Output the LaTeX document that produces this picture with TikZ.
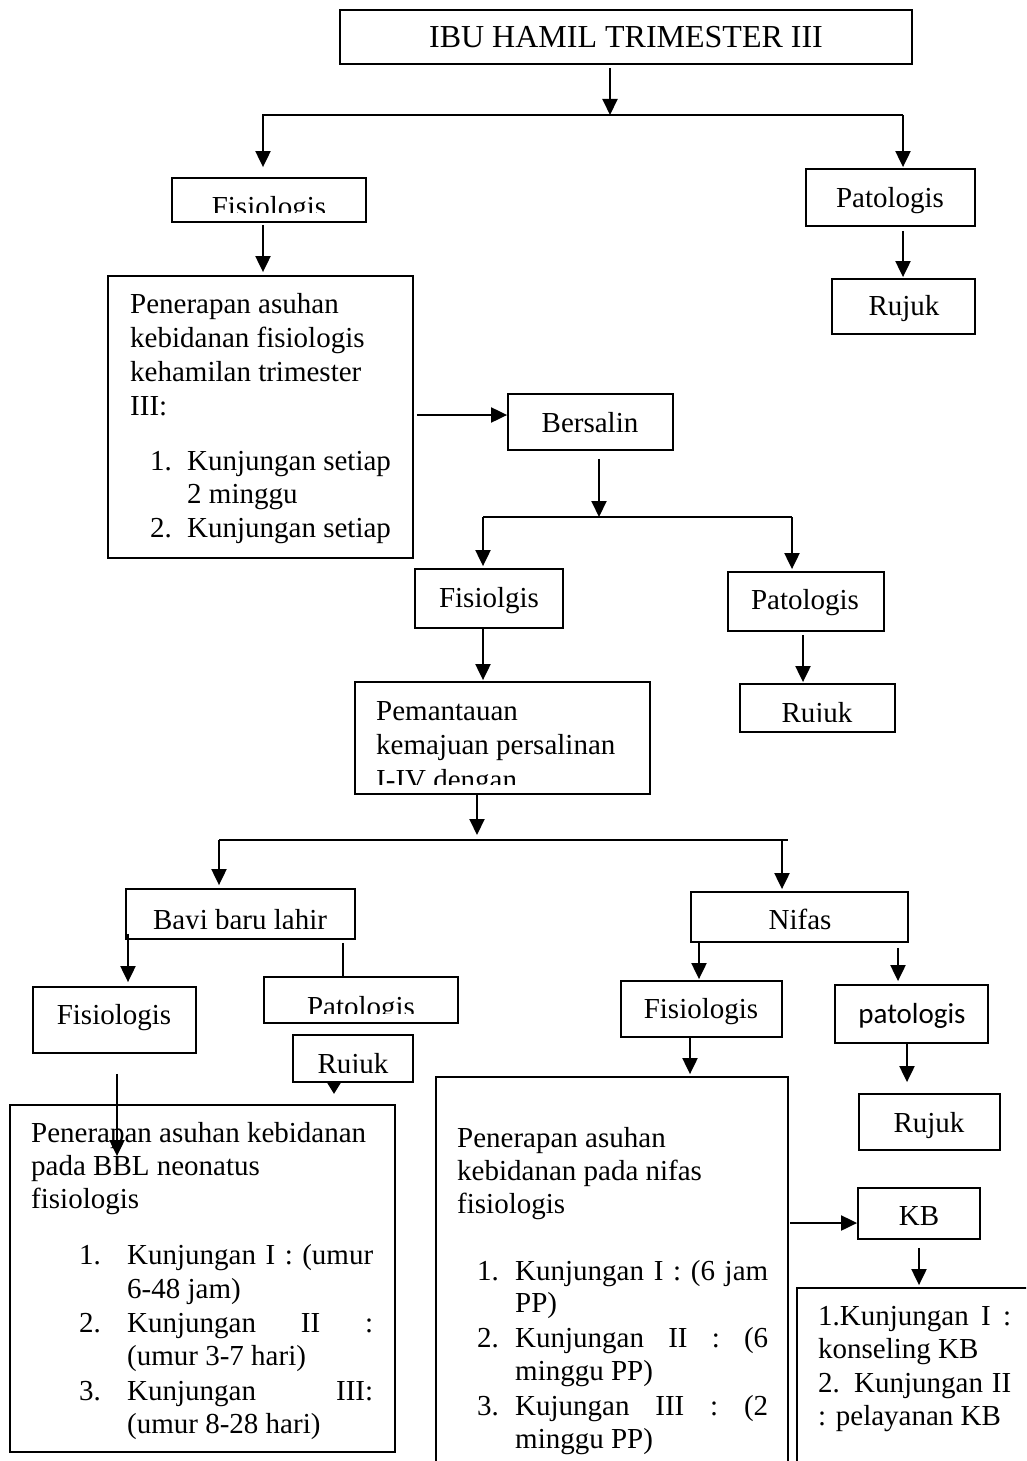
\documentclass[tikz,border=0pt]{standalone}
\usepackage{fontspec}
\setmainfont{Liberation Serif}
\newfontfamily\carlitof{Carlito}
\usetikzlibrary{arrows.meta}
\newcommand\FBox[5]{\node[box, minimum width={#4pt-#2pt}, minimum height={#5pt-#3pt}] (#1) at ({(#2+#4)/2},{(#3+#5)/2}) {};}
\begin{document}
\begin{tikzpicture}[x=1pt,y=-1pt,
  box/.style={draw, line width=1.8pt, rectangle, inner sep=0pt},
  ln/.style={line width=2pt},
  arr/.style={line width=2pt, -{Triangle[length=16pt,width=15pt]}},
  arrs/.style={line width=2pt, -{Triangle[length=11pt,width=13pt]}},
  tl/.style={inner sep=0pt, anchor=base west, font=\fontsize{29}{34}\selectfont},
  tc/.style={inner sep=0pt, anchor=base, font=\fontsize{29}{34}\selectfont}]
\useasboundingbox (0,0) rectangle (1026,1461);
\clip (0,0) rectangle (1026,1461);
% boxes
\FBox{b0}{340}{10}{912}{64}
\FBox{b1}{172}{178}{366}{222}
\FBox{b2}{806}{169}{975}{226}
\FBox{b3}{832}{279}{975}{334}
\FBox{b4}{108}{276}{413}{558}
\FBox{b5}{508}{394}{673}{450}
\FBox{b6}{415}{569}{563}{628}
\FBox{b7}{728}{572}{884}{631}
\FBox{b8}{740}{684}{895}{732}
\FBox{b9}{355}{682}{650}{794}
\FBox{b10}{126}{889}{355}{939}
\FBox{b11}{691}{892}{908}{942}
\FBox{b12}{33}{987}{196}{1053}
\FBox{b13}{264}{977}{458}{1023}
\FBox{b14}{293}{1035}{413}{1082}
\FBox{b15}{10}{1105}{395}{1452}
\FBox{b16}{621}{981}{782}{1037}
\FBox{b17}{835}{985}{988}{1043}
\FBox{b18}{859}{1094}{1000}{1150}
\FBox{b19}{436}{1077}{788}{1490}
\FBox{b20}{858}{1188}{980}{1239}
\FBox{b21}{797}{1288}{1060}{1490}
% single-line texts
\node[tc, font=\fontsize{32}{36}\selectfont] (t0) at (626,48) {IBU HAMIL TRIMESTER III};
\begin{scope}
\clip (172,178) rectangle (366,212);
\node[tc] (t1) at (269,216) {Fisiologis};
\end{scope}
\node[tc] (t2) at (890,207) {Patologis};
\node[tc] (t3) at (904,315) {Rujuk};
\node[tc] (t5) at (590,432) {Bersalin};
\node[tc] (t6) at (489,607) {Fisiolgis};
\node[tc] (t7) at (805,609) {Patologis};
\begin{scope}
\clip (740,684) rectangle (895,721);
\node[tc] (t8) at (817,722) {Rujuk};
\end{scope}
\begin{scope}
\clip (126,889) rectangle (355,928);
\node[tc] (t10) at (240,929) {Bayi baru lahir};
\end{scope}
\node[tc] (t11) at (800,929) {Nifas};
\node[tc] (t12) at (114,1024) {Fisiologis};
\begin{scope}
\clip (264,977) rectangle (458,1013);
\node[tc] (t13) at (361,1016) {Patologis};
\end{scope}
\begin{scope}
\clip (293,1035) rectangle (413,1072);
\node[tc] (t14) at (353,1073) {Rujuk};
\end{scope}
\node[tc] (t16) at (701,1018) {Fisiologis};
\node[tc, font=\fontsize{29}{34}\carlitof] (t17) at (912,1023) {patologis};
\node[tc] (t18) at (929,1132) {Rujuk};
\node[tc] (t20) at (919,1225) {KB};
% box b4 text
\node[tl] (t4a) at (130,313) {Penerapan asuhan};
\node[tl] (t4b) at (130,347) {kebidanan fisiologis};
\node[tl] (t4c) at (130,381) {kehamilan trimester};
\node[tl] (t4d) at (130,415) {III:};
\node[tl] (t4e) at (150,470) {1.};
\node[tl] (t4f) at (187,470) {Kunjungan setiap};
\node[tl] (t4g) at (187,503) {2 minggu};
\node[tl] (t4h) at (150,537) {2.};
\node[tl] (t4i) at (187,537) {Kunjungan setiap};
% box b9 text
\begin{scope}
\clip (355,682) rectangle (650,784);
\node[tl] (t9a) at (376,720) {Pemantauan};
\node[tl] (t9b) at (376,754) {kemajuan persalinan};
\node[tl] (t9c) at (376,789) {I-IV dengan};
\end{scope}
% box b15 text
\node[tl] (t15a) at (31,1142) {Penerapan asuhan kebidanan};
\node[tl] (t15b) at (31,1175) {pada BBL neonatus};
\node[tl] (t15c) at (31,1208) {fisiologis};
\node[tl] (t15d) at (79,1264) {1.};
\node[tl] (t15e) at (127,1264) {\makebox[246pt][s]{Kunjungan I : (umur}};
\node[tl] (t15f) at (127,1298) {6-48 jam)};
\node[tl] (t15g) at (79,1332) {2.};
\node[tl] (t15h) at (127,1332) {\makebox[246pt][s]{Kunjungan II :}};
\node[tl] (t15i) at (127,1365) {(umur 3-7 hari)};
\node[tl] (t15j) at (79,1400) {3.};
\node[tl] (t15k) at (127,1400) {\makebox[246pt][s]{Kunjungan III:}};
\node[tl] (t15l) at (127,1433) {(umur 8-28 hari)};
% box b19 text
\node[tl] (t19a) at (457,1147) {Penerapan asuhan};
\node[tl] (t19b) at (457,1180) {kebidanan pada nifas};
\node[tl] (t19c) at (457,1213) {fisiologis};
\node[tl] (t19d) at (477,1280) {1.};
\node[tl] (t19e) at (515,1280) {\makebox[253pt][s]{Kunjungan I : (6 jam}};
\node[tl] (t19f) at (515,1312) {PP)};
\node[tl] (t19g) at (477,1347) {2.};
\node[tl] (t19h) at (515,1347) {\makebox[253pt][s]{Kunjungan II : (6}};
\node[tl] (t19i) at (515,1380) {minggu PP)};
\node[tl] (t19j) at (477,1415) {3.};
\node[tl] (t19k) at (515,1415) {\makebox[253pt][s]{Kujungan III : (2}};
\node[tl] (t19l) at (515,1448) {minggu PP)};
% box b21 text
\node[tl] (t21a) at (818,1325) {\makebox[193pt][s]{1.Kunjungan I :}};
\node[tl] (t21b) at (818,1358) {konseling KB};
\node[tl] (t21c) at (818,1392) {\makebox[193pt][s]{2. Kunjungan II}};
\node[tl] (t21d) at (818,1425) {: pelayanan KB};
% junction coordinates
\coordinate (j1) at (610,115);
\coordinate (jL1) at (263,115);
\coordinate (jR1) at (903,115);
\coordinate (j6) at (0,415);
\coordinate (j2) at (599,517);
\coordinate (jL2) at (483,517);
\coordinate (jR2) at (792,517);
\coordinate (x11) at (803,0);
\coordinate (j3) at (477,840);
\coordinate (jL3) at (219,840);
\coordinate (jR3) at (782,840);
\coordinate (jE3) at (788,840);
\coordinate (x15) at (128,0);
\coordinate (x16) at (343,0);
\coordinate (x17) at (334,0);
\coordinate (x18) at (117,0);
\coordinate (x19) at (699,0);
\coordinate (x20) at (898,0);
\coordinate (x21) at (690,0);
\coordinate (x22) at (907,0);
\coordinate (j23) at (0,1223);
\coordinate (x24) at (919,0);
% connectors
\draw[arr] ([yshift=-3pt]b0.south -| j1) -- (j1);
\draw[ln] ([xshift=-1pt]jL1) -- (jR1);
\draw[arr] (jL1) -- ([yshift=10pt]b1.north -| jL1);
\draw[arr] (jR1) -- ([yshift=1pt]b2.north -| jR1);
\draw[arr] ([yshift=-2pt]b1.south -| jL1) -- ([yshift=3pt]b4.north -| jL1);
\draw[arr] ([yshift=-4pt]b2.south -| jR1) -- ([yshift=1pt]b3.north -| jR1);
\draw[arr] ([xshift=3pt]b4.east |- j6) -- (b5.west |- j6);
\draw[arr] ([yshift=-8pt]b5.south -| j2) -- (j2);
\draw[ln] (jL2) -- (jR2);
\draw[arr] (jL2) -- ([yshift=2pt]b6.north -| jL2);
\draw[arr] (jR2) -- ([yshift=2pt]b7.north -| jR2);
\draw[arr] (b6.south -| jL2) -- ([yshift=1pt]b9.north -| jL2);
\draw[arr] ([yshift=-3pt]b7.south -| x11) -- ([yshift=1pt]b8.north -| x11);
\draw[arr] (b9.south -| j3) -- ([yshift=5pt]j3);
\draw[ln] (jL3) -- (jE3);
\draw[arr] (jL3) -- ([yshift=3pt]b10.north -| jL3);
\draw[arr] (jR3) -- ([yshift=2pt]b11.north -| jR3);
\draw[arr] ([yshift=6pt]b10.south -| x15) -- ([yshift=4pt]b12.north -| x15);
\draw[ln] ([yshift=-3pt]b10.south -| x16) -- (b13.north -| x16);
\draw[arrs] (b14.south -| x17) -- ([yshift=-11pt]b14.south -| x17);
\draw[arr] ([yshift=-20pt]b12.south -| x18) -- ([yshift=-52pt]b15.north -| x18);
\draw[arr] (b11.south -| x19) -- ([yshift=1pt]b16.north -| x19);
\draw[arr] ([yshift=-5pt]b11.south -| x20) -- ([yshift=3pt]b17.north -| x20);
\draw[arr] (b16.south -| x21) -- ([yshift=2pt]b19.north -| x21);
\draw[arr] (b17.south -| x22) -- ([yshift=11pt]b18.north -| x22);
\draw[arr] ([xshift=1pt]b19.east |- j23) -- (b20.west |- j23);
\draw[arr] ([yshift=-8pt]b20.south -| x24) -- ([yshift=2pt]b21.north -| x24);
\end{tikzpicture}
\end{document}
